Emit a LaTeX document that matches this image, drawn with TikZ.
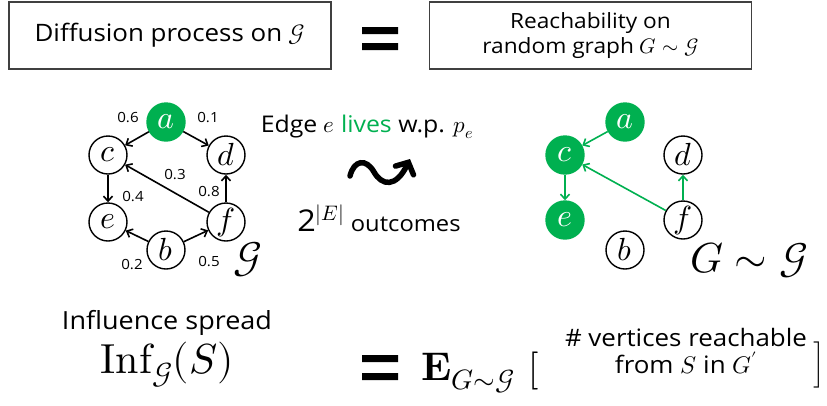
\documentclass[tikz,border=0pt]{standalone}
\usepackage{fontspec}
\usepackage{unicode-math}
\setmainfont{Open Sans}[FakeStretch=1.08]
\setmathfont{Latin Modern Math}
\usetikzlibrary{arrows.meta}
\definecolor{live}{RGB}{0,176,80}
\definecolor{frame}{RGB}{64,64,64}
\newcommand{\fsize}[1]{\fontsize{#1pt}{#1pt}\selectfont}
\begin{document}
\begin{tikzpicture}[x=1pt, y=-1pt, every node/.style={font=\fsize{22}}]
  \tikzstyle{box}=[draw=frame,line width=1.6pt,minimum width=322pt,minimum height=67pt,align=center,inner sep=0pt]
  \tikzstyle{vtx}=[circle,draw,line width=1.4pt,minimum size=38pt,inner sep=0pt,font=\fsize{32}]
  \tikzstyle{hit}=[vtx,draw=live,fill=live,text=white]
  \tikzstyle{edge}=[line width=1.6pt,-{Straight Barb[length=5pt,width=9pt]}]
  \tikzstyle{liveedge}=[edge,draw=live]
  \tikzstyle{lbl}=[font=\fsize{14},inner sep=0pt]
  \useasboundingbox (0,0) rectangle (827,405);
  % headline
  \node[box,font=\fsize{24}] (diff) at (170,35.5) {Diffusion process on $\mathcal{G}$};
  \node[box,font=\fsize{21}] (reach) at (590.5,35.5) {Reachability on\\[4pt]random graph $G\sim\mathcal{G}$};
  \fill (362,27) rectangle (398,34) (362,43) rectangle (398,50);
  % original graph
  \node[hit] (a) at (166,122) {$a$};
  \node[vtx] (c) at (108,155) {$c$};
  \node[vtx] (d) at (226,155) {$d$};
  \node[vtx] (e) at (108,222) {$e$};
  \node[vtx] (f) at (226,222) {$f$};
  \node[vtx] (b) at (166,250) {$b$};
  \draw[edge] (a) -- (c);
  \draw[edge] (a) -- (d);
  \draw[edge] (c) -- (e);
  \draw[edge] (f) -- (c);
  \draw[edge] (f) -- (d);
  \draw[edge] (b) -- (e);
  \draw[edge] (b) -- (f);
  \node[lbl] (pac) at (128,118) {0.6};
  \node[lbl] (pad) at (208,118) {0.1};
  \node[lbl] (pfc) at (175,175) {0.3};
  \node[lbl] (pce) at (133,197) {0.4};
  \node[lbl] (pfd) at (209,192) {0.8};
  \node[lbl] (pbe) at (132,265) {0.2};
  \node[lbl] (pbf) at (209,262) {0.5};
  \node[font=\fsize{42}] (gname) at (248,260) {$\mathcal{G}$};
  % sampling
  \node[font=\fsize{23}] (rule) at (367,127) {Edge $e$ \textcolor{live}{lives} w.p. $p_e$};
  \coordinate (sqA) at (350,176);
  \coordinate (sqB) at (410,159);
  \draw[line width=5.5pt,line cap=round,-{Straight Barb[length=9pt,width=20pt,line cap=round]}] (sqA) .. controls (354,160) and (366,158) .. (374,172) .. controls (382,186) and (396,188) .. (sqB);
  \node (outc) at (379,218) {{\fsize{30}2$^{|E|}$} outcomes};
  % sampled graph
  \node[hit] (a2) at (625,122) {$a$};
  \node[hit] (c2) at (565,155) {$c$};
  \node[vtx] (d2) at (683,155) {$d$};
  \node[hit] (e2) at (565,220) {$e$};
  \node[vtx] (f2) at (683,220) {$f$};
  \node[vtx] (b2) at (625,250) {$b$};
  \draw[liveedge] (a2) -- (c2);
  \draw[liveedge] (c2) -- (e2);
  \draw[liveedge] (f2) -- (c2);
  \draw[liveedge] (f2) -- (d2);
  \node[font=\fsize{42}] (sample) at (749,260) {$G\sim\mathcal{G}$};
  % influence spread
  \node[font=\fsize{25}] (infl) at (167,323) {Influence spread};
  \node[font=\fsize{42}] (inf) at (167,365) {$\symup{Inf}_{\mathcal{G}}(S)$};
  \fill (362,355) rectangle (398,362) (362,373) rectangle (398,380);
  \node[font=\fsize{40},anchor=base west,inner sep=0pt] (expt) at (421,380) {$\symbf{E}_{G\sim\mathcal{G}}$};
  \node[font=\fsize{38},inner sep=0pt] (lbr) at (534,371) {$[$};
  \node[font=\fsize{24},align=center] (cnt) at (686,351) {\# vertices reachable\\[3pt]from $S$ in $G'$};
  \node[inner sep=0pt] (rbr) at (818,366) {$\left.\vrule height 19pt depth 19pt width 0pt\right]$};
\end{tikzpicture}
\end{document}
